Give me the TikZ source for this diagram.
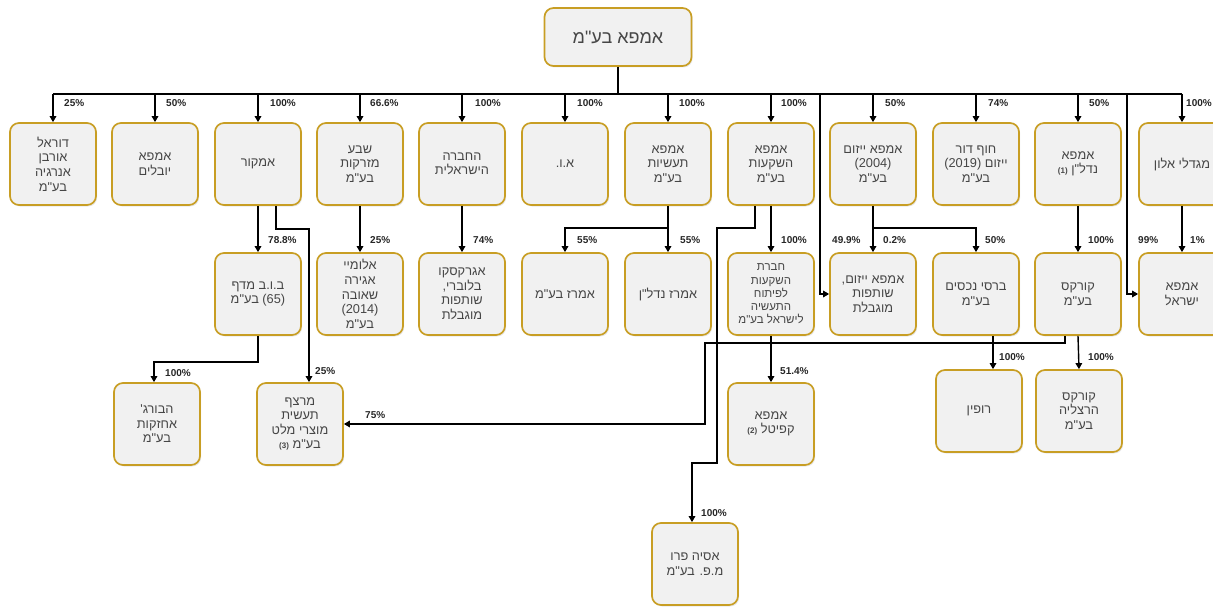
\documentclass[tikz,border=0pt]{standalone}
\usepackage{fontspec}
\setmainfont{Liberation Sans}
\newfontfamily\hebfont[Script=Hebrew]{Liberation Sans}
\TeXXeTstate=1
\usetikzlibrary{arrows.meta,shadows}
\newcommand\rl[1]{\beginR #1\endR}
\newcommand\sm[1]{{\bfseries\fontsize{8}{9}\selectfont #1}}
\definecolor{boxgold}{RGB}{200,158,36}
\definecolor{boxfill}{RGB}{241,241,241}
\definecolor{boxtext}{RGB}{70,70,70}
\tikzset{
  cbox/.style={draw=boxgold, fill=boxfill, rounded corners=9pt, line width=1.7pt,
    minimum width=86pt, minimum height=82pt, inner sep=2pt, align=center,
    text=boxtext, font=\hebfont\fontsize{12.8}{14.6}\selectfont,
    drop shadow={shadow xshift=1.2pt, shadow yshift=-1.5pt, opacity=0.18}},
  topbox/.style={cbox, minimum width=147pt, minimum height=58pt, font=\hebfont\fontsize{18}{20}\selectfont},
  small/.style={font=\hebfont\fontsize{11.5}{13.3}\selectfont},
  ln/.style={line width=1.4pt, black},
  arr/.style={ln, -{Triangle[length=6pt,width=6.5pt]}},
  pct/.style={font=\bfseries\fontsize{10}{11}\selectfont, text=black!85, inner sep=0pt, anchor=west}
}
\begin{document}
\begin{tikzpicture}[x=1pt,y=-1pt]
\useasboundingbox (0,0) rectangle (1213,607);
% top
\node[topbox] (top) at (618,37) {\rl{אמפא בע"מ}};
% row 1
\node[cbox] (b1) at (53,164) {\rl{דוראל}\\\rl{אורבן}\\\rl{אנרגיה}\\\rl{בע"מ}};
\node[cbox] (b2) at (155,164) {\rl{אמפא}\\\rl{יובלים}};
\node[cbox] (b3) at (258,164) {\rl{אמקור}};
\node[cbox] (b4) at (360,164) {\rl{שבע}\\\rl{מזרקות}\\\rl{בע"מ}};
\node[cbox] (b5) at (462,164) {\rl{החברה}\\\rl{הישראלית}};
\node[cbox] (b6) at (565,164) {\rl{א.ו.}};
\node[cbox] (b7) at (668,164) {\rl{אמפא}\\\rl{תעשיות}\\\rl{בע"מ}};
\node[cbox] (b8) at (771,164) {\rl{אמפא}\\\rl{השקעות}\\\rl{בע"מ}};
\node[cbox] (b9) at (873,164) {\rl{אמפא ייזום}\\(2004)\\\rl{בע"מ}};
\node[cbox] (b10) at (976,164) {\rl{חוף דור}\\\rl{ייזום (2019)}\\\rl{בע"מ}};
\node[cbox] (b11) at (1078,164) {\rl{אמפא}\\\rl{נדל"ן \sm{(1)}}};
\node[cbox] (b12) at (1182,164) {\rl{מגדלי אלון}};
% row 2
\node[cbox] (bub) at (258,294) {\rl{ב.ו.ב מדף}\\\rl{(65) בע"מ}};
\node[cbox] (alu) at (360,294) {\rl{אלומיי}\\\rl{אגירה}\\\rl{שאובה}\\(2014)\\\rl{בע"מ}};
\node[cbox] (agr) at (462,294) {\rl{אגרקסקו}\\\rl{בלוברי,}\\\rl{שותפות}\\\rl{מוגבלת}};
\node[cbox] (amz) at (565,294) {\rl{אמרז בע"מ}};
\node[cbox] (amn) at (668,294) {\rl{אמרז נדל"ן}};
\node[cbox,small] (hev) at (771,294) {\rl{חברת}\\\rl{השקעות}\\\rl{לפיתוח}\\\rl{התעשיה}\\\rl{לישראל בע"מ}};
\node[cbox] (yzp) at (873,294) {\rl{אמפא ייזום,}\\\rl{שותפות}\\\rl{מוגבלת}};
\node[cbox] (brs) at (976,294) {\rl{ברסי נכסים}\\\rl{בע"מ}};
\node[cbox] (crx) at (1078,294) {\rl{קורקס}\\\rl{בע"מ}};
\node[cbox] (ais) at (1182,294) {\rl{אמפא}\\\rl{ישראל}};
% row 3
\node[cbox] (hbg) at (157,424) {\rl{הבורג'}\\\rl{אחזקות}\\\rl{בע"מ}};
\node[cbox] (mrz) at (300,424) {\rl{מרצף}\\\rl{תעשית}\\\rl{מוצרי מלט}\\\rl{בע"מ \sm{(3)}}};
\node[cbox] (cap) at (771,424) {\rl{אמפא}\\\rl{קפיטל \sm{(2)}}};
\node[cbox] (rup) at (979,411) {\rl{רופין}};
\node[cbox] (crh) at (1079,411) {\rl{קורקס}\\\rl{הרצליה}\\\rl{בע"מ}};
\node[cbox] (asp) at (695,564) {\rl{אסיה פרו}\\\rl{מ.פ. בע"מ}};
% bus
\coordinate (bus) at (0,94);
\draw[ln] (top.south) -- (top.south |- bus);
\draw[ln, line width=1.8pt] (b1.north |- bus) -- (b12.north |- bus);
\foreach \n in {b1,b2,b3,b4,b5,b6,b7,b8,b9,b10,b11,b12}
  \draw[arr] (\n.north |- bus) -- (\n.north);
\coordinate (v1) at (820,94);
\coordinate (v2) at (1127,94);
\draw[arr] (v1) |- (yzp.west);
\draw[arr] (v2) |- (ais.west);
% row 1 -> row 2
\draw[arr] (b3.south) -- (bub.north);
\coordinate (m2) at (309,229);
\draw[arr] ([xshift=18pt]b3.south) |- (m2) -- (m2 |- mrz.north);
\draw[arr] (b4.south) -- (alu.north);
\draw[arr] (b5.south) -- (agr.north);
\draw[arr] (b7.south) -- (amn.north);
\coordinate (t1) at (668,228);
\draw[arr] (t1) -| (amz.north);
\draw[arr] (b8.south) -- (hev.north);
\coordinate (k1) at (717,228);
\coordinate (k2) at (717,463);
\draw[arr] ([xshift=-16pt]b8.south) |- (k1) -- (k2) -| ([xshift=-3pt]asp.north);
\draw[arr] (b9.south) -- (yzp.north);
\coordinate (t2) at (873,228);
\draw[arr] (t2) -| (brs.north);
\draw[arr] (b11.south) -- (crx.north);
\draw[arr] (b12.south) -- (ais.north);
% row 2 -> row 3
\coordinate (t3) at (258,362);
\draw[arr] (bub.south) -- (t3) -| ([xshift=-3pt]hbg.north);
\draw[arr] (hev.south) -- (cap.north);
\draw[arr] ([xshift=17pt]brs.south) -- ([xshift=17pt]brs.south |- rup.north);
\draw[arr] (crx.south) -- (crh.north);
\coordinate (m1) at (705,343);
\draw[arr] ([xshift=-13pt]crx.south) |- (m1) |- (mrz.east);
% labels
\node[pct] (l1) at (64,103) {25\%};
\node[pct] (l2) at (166,103) {50\%};
\node[pct] (l3) at (270,103) {100\%};
\node[pct] (l4) at (370,103) {66.6\%};
\node[pct] (l5) at (475,103) {100\%};
\node[pct] (l6) at (577,103) {100\%};
\node[pct] (l7) at (679,103) {100\%};
\node[pct] (l8) at (781,103) {100\%};
\node[pct] (l9) at (885,103) {50\%};
\node[pct] (l10) at (988,103) {74\%};
\node[pct] (l11) at (1089,103) {50\%};
\node[pct, anchor=east] (l12) at (1212,103) {100\%};
\node[pct] (m3) at (268,240) {78.8\%};
\node[pct] (m4) at (370,240) {25\%};
\node[pct] (m5) at (473,240) {74\%};
\node[pct] (m6) at (577,240) {55\%};
\node[pct] (m7) at (680,240) {55\%};
\node[pct] (m8) at (781,240) {100\%};
\node[pct] (m9) at (832,240) {49.9\%};
\node[pct] (m10) at (883,240) {0.2\%};
\node[pct] (m11) at (985,240) {50\%};
\node[pct] (m12) at (1088,240) {100\%};
\node[pct] (m13) at (1138,240) {99\%};
\node[pct] (m14) at (1190,240) {1\%};
\node[pct] (n1) at (165,373) {100\%};
\node[pct] (n2) at (315,371) {25\%};
\node[pct] (n3) at (365,415) {75\%};
\node[pct] (n4) at (780,371) {51.4\%};
\node[pct] (n5) at (999,357) {100\%};
\node[pct] (n6) at (1088,357) {100\%};
\node[pct] (n7) at (701,513) {100\%};
\end{tikzpicture}
\end{document}
